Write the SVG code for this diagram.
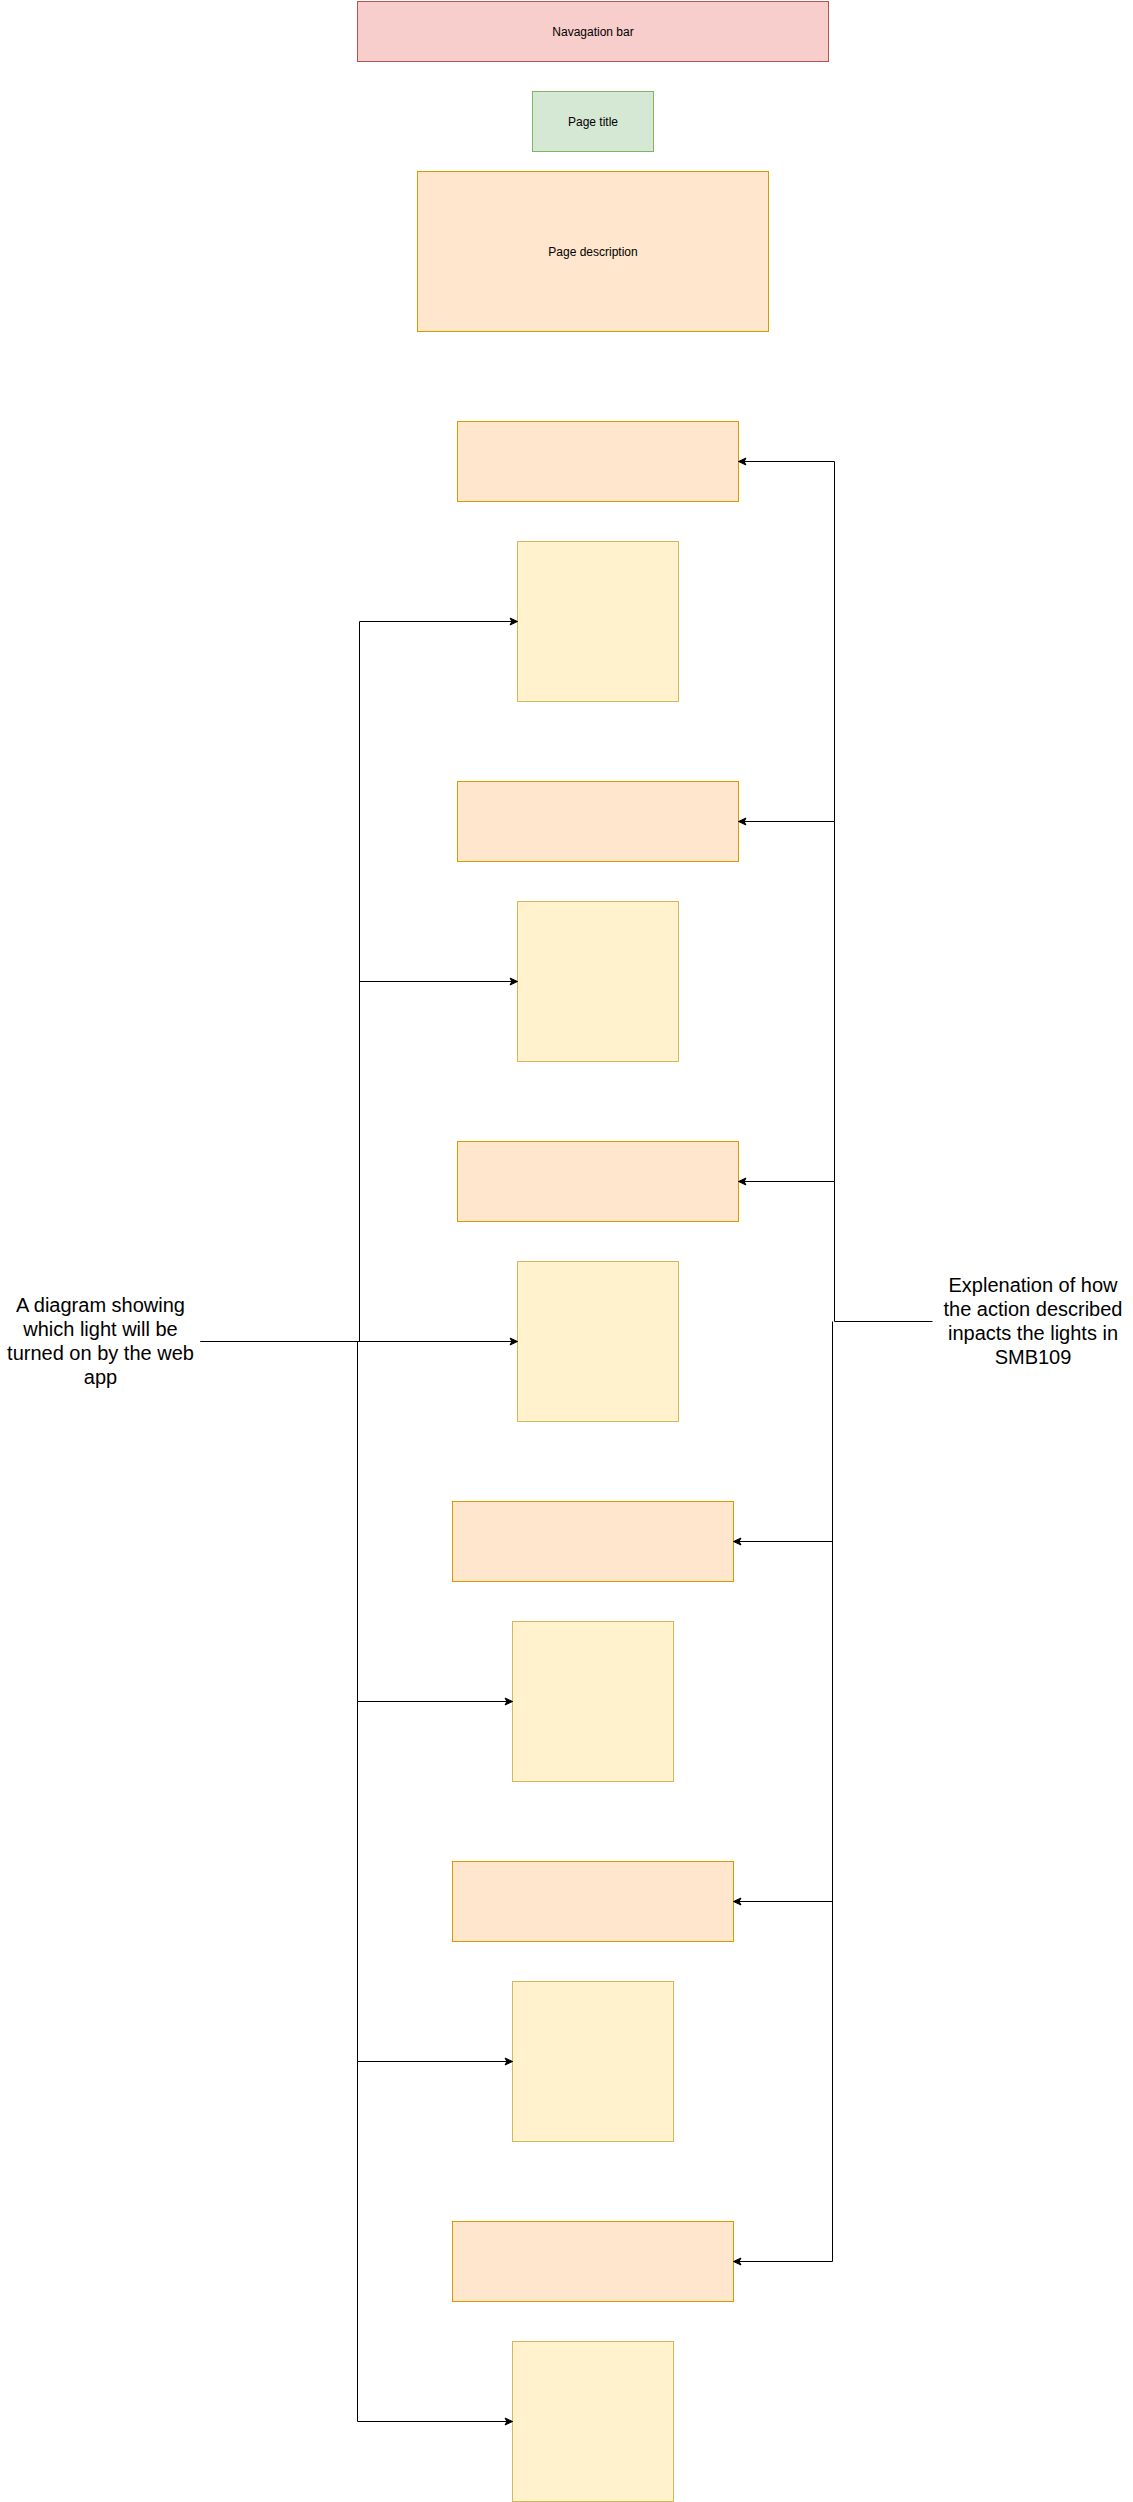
<svg xmlns="http://www.w3.org/2000/svg" width="1133" height="2502" viewBox="0 0 1133 2502">
<style>
.lbl{font-family:"Liberation Sans",Arial,Helvetica,sans-serif;font-size:12px;fill:#000;text-anchor:middle}
.big{font-family:"Liberation Sans",Arial,Helvetica,sans-serif;font-size:20px;fill:#000;text-anchor:middle}
.red{fill:#f8cecc;stroke:#b85450;stroke-width:1}
.green{fill:#d5e8d4;stroke:#82b366;stroke-width:1}
.orange{fill:#ffe6cc;stroke:#d79b00;stroke-width:1}
.yellow{fill:#fff2cc;stroke:#d6b656;stroke-width:1}
.edge{fill:none;stroke:#000;stroke-width:1}
.arr{fill:none;stroke:#000;stroke-width:1;marker-end:url(#ah)}
</style>
<defs>
<marker id="ah" markerUnits="userSpaceOnUse" markerWidth="12" markerHeight="12" viewBox="-10 -6 12 12" refX="0" refY="0" orient="auto">
<path d="M0,0 L-7.5,-3.5 L-5.6,0 L-7.5,3.5 Z" fill="#000" stroke="#000" stroke-width="1"/>
</marker>
</defs>
<rect width="1133" height="2502" fill="#fff"/>
<g id="navbar"><rect class="red" x="357.5" y="1.5" width="471" height="60"/><text class="lbl" x="593" y="35.5">Navagation bar</text></g>
<g id="page-title"><rect class="green" x="532.5" y="91.5" width="121" height="60"/><text class="lbl" x="593" y="125.5">Page title</text></g>
<g id="page-description"><rect class="orange" x="417.5" y="171.5" width="351" height="160"/><text class="lbl" x="593" y="255.5">Page description</text></g>
<g id="text-box-1"><rect class="orange" x="457.5" y="421.5" width="281" height="80"/></g>
<g id="image-1"><rect class="yellow" x="517.5" y="541.5" width="161" height="160"/></g>
<g id="text-box-2"><rect class="orange" x="457.5" y="781.5" width="281" height="80"/></g>
<g id="image-2"><rect class="yellow" x="517.5" y="901.5" width="161" height="160"/></g>
<g id="text-box-3"><rect class="orange" x="457.5" y="1141.5" width="281" height="80"/></g>
<g id="image-3"><rect class="yellow" x="517.5" y="1261.5" width="161" height="160"/></g>
<g id="text-box-4"><rect class="orange" x="452.5" y="1501.5" width="281" height="80"/></g>
<g id="image-4"><rect class="yellow" x="512.5" y="1621.5" width="161" height="160"/></g>
<g id="text-box-5"><rect class="orange" x="452.5" y="1861.5" width="281" height="80"/></g>
<g id="image-5"><rect class="yellow" x="512.5" y="1981.5" width="161" height="160"/></g>
<g id="text-box-6"><rect class="orange" x="452.5" y="2221.5" width="281" height="80"/></g>
<g id="image-6"><rect class="yellow" x="512.5" y="2341.5" width="161" height="160"/></g>
<g id="label-diagram"><text class="big" x="100.5"><tspan x="100.5" y="1312">A diagram showing</tspan><tspan x="100.5" y="1336">which light will be</tspan><tspan x="100.5" y="1360">turned on by the web</tspan><tspan x="100.5" y="1384">app</tspan></text></g>
<g id="label-explanation"><text class="big" x="1033"><tspan x="1033" y="1292">Explenation of how</tspan><tspan x="1033" y="1316">the action described</tspan><tspan x="1033" y="1340">inpacts the lights in</tspan><tspan x="1033" y="1364">SMB109</tspan></text></g>
<g id="connectors">
<path class="arr" d="M200.5,1341.5 L359.5,1341.5 L359.5,621.5 L517.5,621.5"/>
<path class="arr" d="M359.5,981.5 L517.5,981.5"/>
<path class="arr" d="M200.5,1341.5 L517.5,1341.5"/>
<path class="edge" d="M357.5,1341.5 L357.5,2421.5"/>
<path class="arr" d="M357.5,1701.5 L512.5,1701.5"/>
<path class="arr" d="M357.5,2061.5 L512.5,2061.5"/>
<path class="arr" d="M357.5,2421.5 L512.5,2421.5"/>
<path class="arr" d="M932.5,1321.5 L834.5,1321.5 L834.5,461.5 L738.5,461.5"/>
<path class="arr" d="M834.5,821.5 L738.5,821.5"/>
<path class="arr" d="M834.5,1181.5 L738.5,1181.5"/>
<path class="edge" d="M832.5,1321.5 L832.5,2261.5"/>
<path class="arr" d="M832.5,1541.5 L733.5,1541.5"/>
<path class="arr" d="M832.5,1901.5 L733.5,1901.5"/>
<path class="arr" d="M832.5,2261.5 L733.5,2261.5"/>
</g>
</svg>
